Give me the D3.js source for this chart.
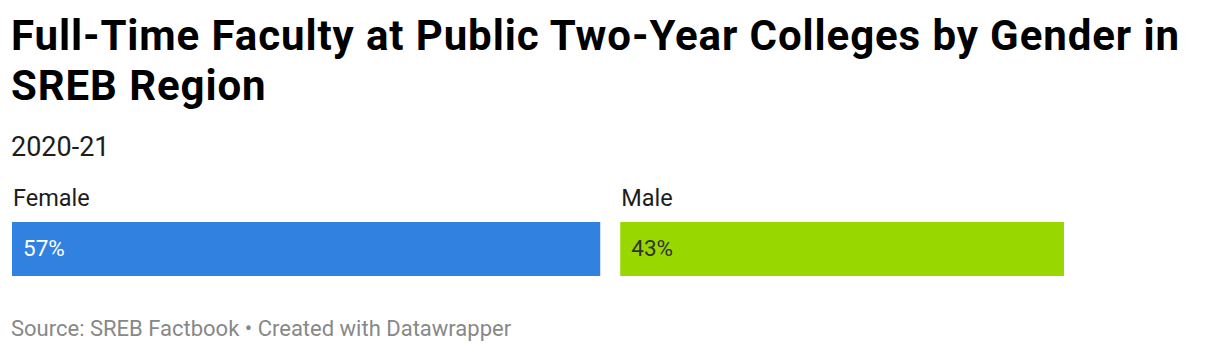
<!DOCTYPE html>
<html><head><meta charset="utf-8">
<script src="https://cdn.jsdelivr.net/npm/d3@7"></script>
<style>
body{margin:0;background:#fff;}
svg{display:block;font-family:Roboto,sans-serif;}
</style></head>
<body>
<svg id="c" width="1220" height="352"></svg>
<script>
const titleLines = ["Full-Time Faculty at Public Two-Year Colleges by Gender in", "SREB Region"];
const subtitle = "2020-21";
const categories = ["Female", "Male"];
const values = [57, 43];
const colors = ["#3181e1", "#98d700"];
const labelColors = ["#ffffff", "#333333"];
const source = "Source: SREB Factbook \u2022 Created with Datawrapper";

const svg = d3.select("#c");
const left = 12, gap = 20, barTop = 222, barH = 54;
const x = d3.scaleLinear().domain([0, 100]).range([0, 1032]);

svg.selectAll("text.title").data(titleLines).join("text")
  .attr("class","title")
  .attr("x", left - 1).attr("y", (d,i) => 50 + i*50)
  .attr("font-size", 42).attr("font-weight", 700).attr("letter-spacing", 0.9)
  .attr("fill", "#000")
  .text(d => d);

svg.append("text").attr("x", left - 1).attr("y", 156)
  .attr("font-size", 27).attr("fill", "#1d1d1d").text(subtitle);

const starts = [];
let acc = left;
values.forEach((v,i) => { starts.push(acc); acc += x(v) + gap; });

const g = svg.selectAll("g.bar").data(categories).join("g").attr("class","bar");
g.append("rect")
  .attr("x", (d,i) => starts[i]).attr("y", barTop)
  .attr("width", (d,i) => x(values[i])).attr("height", barH)
  .attr("fill", (d,i) => colors[i]);
g.append("text")
  .attr("x", (d,i) => starts[i] + 1).attr("y", 206)
  .attr("font-size", 23.5).attr("fill", "#1d1d1d").text(d => d);
g.append("text")
  .attr("x", (d,i) => starts[i] + 11).attr("y", 256)
  .attr("font-size", 22.5).attr("fill", (d,i) => labelColors[i])
  .text((d,i) => values[i] + "%");

svg.append("text").attr("x", left - 1).attr("y", 336)
  .attr("font-size", 22).attr("fill", "#888").text(source);
</script>
</body></html>
